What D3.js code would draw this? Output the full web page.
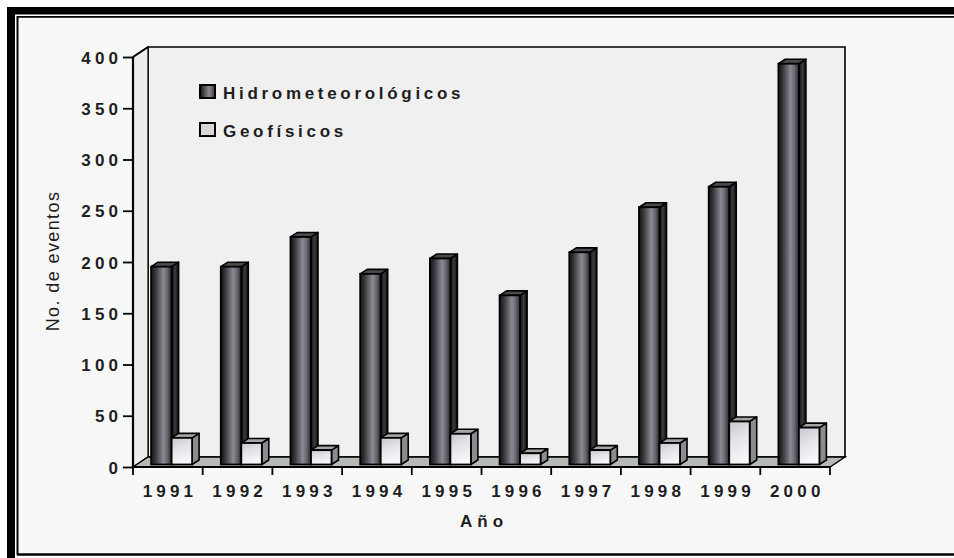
<!DOCTYPE html>
<html>
<head>
<meta charset="utf-8">
<script src="https://cdn.jsdelivr.net/npm/d3@7"></script>
<style>
  html, body { margin: 0; padding: 0; background: #ffffff; }
  svg { display: block; }
  text { font-family: "Liberation Sans", Arial, sans-serif; fill: #1e1e1e; }
</style>
</head>
<body>
<svg id="chart" width="954" height="558"></svg>
<script>
// Número de eventos por año
const years = ["1991", "1992", "1993", "1994", "1995", "1996", "1997", "1998", "1999", "2000"];
const hidro = [193, 193, 222, 186, 201, 165, 207, 251, 271, 391];
const geo   = [26, 21, 14, 26, 30, 11, 14, 21, 42, 36];
const seriesNames = ["Hidrometeorológicos", "Geofísicos"];
const yTicks = [0, 50, 100, 150, 200, 250, 300, 350, 400];

const svg = d3.select("#chart");

// plot box (front plane) and 3D depth of the walls
const pL = 133, pR = 830, pT = 57, pB = 467;
const DX = 15, DY = -10;          // wall depth offset
const SX = 3.75, SY = -2.5;       // bar plane offset inside the depth
const BDX = 7, BDY = -4.5;        // bar depth

const x0 = d3.scaleBand().domain(years).range([pL, pR]).padding(0);
const clusterW = 41;
const x1 = d3.scaleBand().domain(seriesNames).range([0, clusterW]).padding(0);
const y = d3.scaleLinear().domain([0, 400]).range([pB, pT]);

const defs = svg.append("defs");
const gDark = defs.append("linearGradient").attr("id", "gDark").attr("x1", 0).attr("x2", 1).attr("y1", 0).attr("y2", 0);
[[0, "#141414"], [0.2, "#343338"], [0.6, "#8c8a92"], [0.8, "#66646c"], [1, "#262628"]]
  .forEach(([o, c]) => gDark.append("stop").attr("offset", o).attr("stop-color", c));
const gLight = defs.append("linearGradient").attr("id", "gLight").attr("x1", 0).attr("x2", 0.3).attr("y1", 0).attr("y2", 1);
[[0, "#c9c5cd"], [0.5, "#e6e3e9"], [1, "#f7f6f8"]]
  .forEach(([o, c]) => gLight.append("stop").attr("offset", o).attr("stop-color", c));
const gDarkSide = defs.append("linearGradient").attr("id", "gDarkSide").attr("x1", 0).attr("x2", 1);
[[0, "#0c0c0c"], [0.5, "#3c3c3e"], [1, "#0c0c0c"]]
  .forEach(([o, c]) => gDarkSide.append("stop").attr("offset", o).attr("stop-color", c));

// page background and frame
svg.append("rect").attr("x", 17).attr("y", 17).attr("width", 937).attr("height", 537).attr("fill", "#f8f8f8");
svg.append("rect").attr("x", 7).attr("y", 7).attr("width", 8).attr("height", 551).attr("fill", "#000");
svg.append("rect").attr("x", 7).attr("y", 7).attr("width", 947).attr("height", 7.5).attr("fill", "#000");
svg.append("line").attr("x1", 17.5).attr("x2", 17.5).attr("y1", 16).attr("y2", 555).attr("stroke", "#000").attr("stroke-width", 2);
svg.append("line").attr("x1", 17).attr("x2", 954).attr("y1", 16.8).attr("y2", 16.8).attr("stroke", "#000").attr("stroke-width", 1.8);
svg.append("line").attr("x1", 17).attr("x2", 954).attr("y1", 554.5).attr("y2", 554.5).attr("stroke", "#000").attr("stroke-width", 2.5);

const pts = a => a.map(p => p.join(",")).join(" ");

// walls and floor
svg.append("polygon")
  .attr("points", pts([[pL + DX, pT + DY], [pR + DX, pT + DY], [pR + DX, pB + DY], [pL + DX, pB + DY]]))
  .attr("fill", "#eff0ef").attr("stroke", "#000").attr("stroke-width", 1.6);
svg.append("polygon")
  .attr("points", pts([[pL, pT], [pL + DX, pT + DY], [pL + DX, pB + DY], [pL, pB]]))
  .attr("fill", "#eceeec").attr("stroke", "#000").attr("stroke-width", 1.2);
svg.append("polygon")
  .attr("points", pts([[pL, pB], [pL + DX, pB + DY], [pR + DX, pB + DY], [pR, pB]]))
  .attr("fill", "#b6bab6").attr("stroke", "#000").attr("stroke-width", 1.4);

// bars
function bar(g, x, v, w, fillFront, fillSide, fillTop) {
  const xf = x + SX;
  const yt = y(v) + SY, yb = y(0) + SY;
  g.append("polygon")
    .attr("points", pts([[xf + w, yt], [xf + w + BDX, yt + BDY], [xf + w + BDX, yb + BDY], [xf + w, yb]]))
    .attr("fill", fillSide).attr("stroke", "#000").attr("stroke-width", 1.6).attr("stroke-linejoin", "round");
  g.append("polygon")
    .attr("points", pts([[xf, yt], [xf + BDX, yt + BDY], [xf + w + BDX, yt + BDY], [xf + w, yt]]))
    .attr("fill", fillTop).attr("stroke", "#000").attr("stroke-width", 1.6).attr("stroke-linejoin", "round");
  g.append("rect")
    .attr("x", xf).attr("y", yt).attr("width", w).attr("height", yb - yt)
    .attr("fill", fillFront).attr("stroke", "#000").attr("stroke-width", 1.8);
}

const barsG = svg.append("g");
years.forEach((yr, i) => {
  const base = x0(yr) + (x0.bandwidth() - clusterW) / 2;
  bar(barsG, base + x1(seriesNames[0]), hidro[i], x1.bandwidth(), "url(#gDark)", "url(#gDarkSide)", "#4a4a4c");
  bar(barsG, base + x1(seriesNames[1]), geo[i], x1.bandwidth(), "url(#gLight)", "#8c8c8e", "#a4a4a6");
});

// axes
const axisG = svg.append("g");
axisG.append("line").attr("x1", pL).attr("x2", pL).attr("y1", pT).attr("y2", pB)
  .attr("stroke", "#000").attr("stroke-width", 2.2);
axisG.append("line").attr("x1", pL).attr("x2", pR).attr("y1", pB).attr("y2", pB)
  .attr("stroke", "#000").attr("stroke-width", 2.2);
axisG.append("line").attr("x1", pL).attr("x2", pL + DX).attr("y1", pT).attr("y2", pT + DY)
  .attr("stroke", "#000").attr("stroke-width", 2);

const yAxis = d3.axisLeft(y).tickValues(yTicks).tickSize(10).tickPadding(5).tickFormat(d3.format("d"));
const gy = svg.append("g").attr("transform", `translate(${pL},0)`).call(yAxis);
gy.select(".domain").remove();
gy.selectAll(".tick line").attr("stroke", "#000").attr("stroke-width", 1.8);
gy.selectAll(".tick text")
  .attr("font-size", 17).attr("font-weight", "bold").attr("letter-spacing", "4.2px")
  .attr("x", -15 + 4.2).attr("dy", "0.36em").style("fill", "#1e1e1e");

const xAxis = d3.axisBottom(x0).tickSize(0).tickPadding(0);
const gx = svg.append("g").attr("transform", `translate(0,${pB})`).call(xAxis);
gx.select(".domain").remove();
gx.selectAll(".tick line").remove();
gx.selectAll(".tick text")
  .attr("font-size", 17).attr("font-weight", "bold").attr("letter-spacing", "4.2px")
  .attr("y", 30).attr("dy", 0).attr("x", 2.1).style("fill", "#1e1e1e");

// category boundary ticks
const bounds = years.map(d => x0(d)).concat([pR]);
svg.append("g").selectAll("line").data(bounds).join("line")
  .attr("x1", d => d).attr("x2", d => d).attr("y1", pB).attr("y2", pB + 8)
  .attr("stroke", "#000").attr("stroke-width", 1.8);

// axis titles
svg.append("text")
  .attr("transform", "translate(59,261) rotate(-90)")
  .attr("text-anchor", "middle").attr("font-size", 18).attr("letter-spacing", "1.4px")
  .text("No. de eventos");
svg.append("text")
  .attr("x", (pL + pR) / 2 + 2.5).attr("y", 527)
  .attr("text-anchor", "middle").attr("font-size", 17).attr("font-weight", "bold").attr("letter-spacing", "5px")
  .text("Año");

// legend
const legend = svg.append("g");
const gLeg = defs.append("linearGradient").attr("id", "gLeg").attr("x1", 0).attr("x2", 1);
[[0, "#111"], [0.6, "#8a888e"], [1, "#3a3a3c"]].forEach(([o, c]) => gLeg.append("stop").attr("offset", o).attr("stop-color", c));
const legFills = ["url(#gLeg)", "#d8d6da"];
seriesNames.forEach((name, i) => {
  const ly = 85 + i * 38;
  legend.append("rect").attr("x", 200).attr("y", ly).attr("width", 15).attr("height", 13)
    .attr("fill", legFills[i]).attr("stroke", "#000").attr("stroke-width", 2);
  legend.append("text").attr("x", 223).attr("y", ly + 14)
    .attr("font-size", 17).attr("font-weight", "bold").attr("letter-spacing", "3.7px")
    .text(name);
});
</script>
</body>
</html>
